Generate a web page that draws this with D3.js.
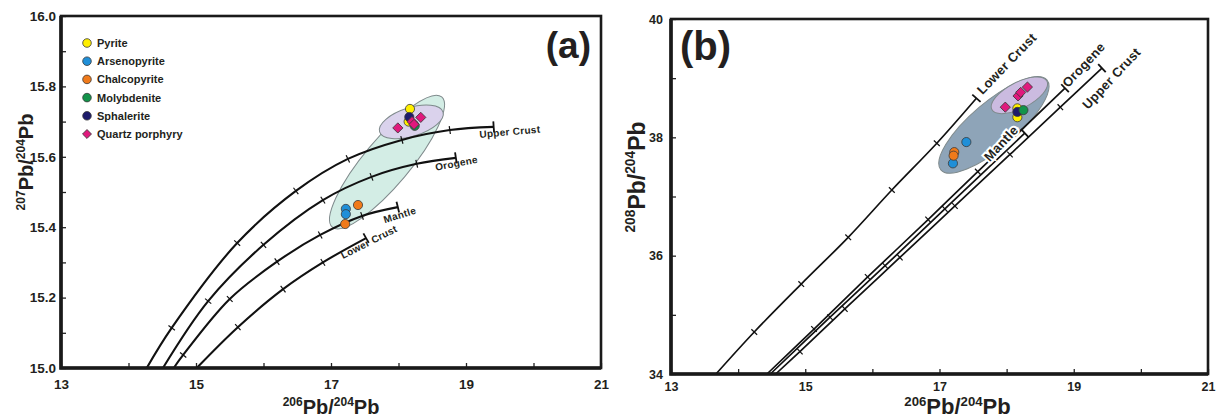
<!DOCTYPE html>
<html>
<head>
<meta charset="utf-8">
<script src="https://cdn.jsdelivr.net/npm/d3@7"></script>
<style>
  body { margin: 0; background: #fff; }
  text { font-family: "Liberation Sans", Arial, sans-serif; font-weight: bold; fill: #231f20; }
</style>
</head>
<body>
<svg id="chart" width="1217" height="419"></svg>
<script>
// ---- data ----
const xTicks = [13, 14, 15, 16, 17, 18, 19, 20, 21];
const yTicksA = [15.0, 15.1, 15.2, 15.3, 15.4, 15.5, 15.6, 15.7, 15.8, 15.9, 16.0];
const yTicksB = [34, 35, 36, 37, 38, 39, 40];

const minerals = ["Pyrite", "Arsenopyrite", "Chalcopyrite", "Molybdenite", "Sphalerite", "Quartz porphyry"];
const mineralColors = ["#ffef00", "#1f8fd8", "#f07a1a", "#13934a", "#1d1b6b", "#e0197d"];

// Zartman & Doe growth curves, points at the model-age ticks
const curveNames = ["Upper Crust", "Orogene", "Mantle", "Lower Crust"];
const curvesA = [
  [[14.27, 15.0], [14.64, 15.114], [15.61, 15.355], [16.48, 15.503], [17.25, 15.594], [18.05, 15.648], [18.76, 15.676], [19.41, 15.685]],
  [[14.51, 15.0], [15.18, 15.19], [16.0, 15.35], [16.88, 15.477], [17.6, 15.543], [18.27, 15.58], [18.85, 15.597]],
  [[14.67, 15.0], [14.81, 15.037], [15.5, 15.196], [16.2, 15.302], [16.84, 15.378], [17.46, 15.432], [17.99, 15.457]],
  [[15.01, 15.0], [15.62, 15.116], [16.29, 15.224], [16.88, 15.30], [17.52, 15.369]]
];
const curvesB = [
  [[14.56, 34.0], [14.92, 34.38], [15.59, 35.10], [16.41, 35.97], [17.23, 36.84], [18.05, 37.71], [18.80, 38.51], [19.42, 39.17]],
  [[14.43, 34.0], [15.13, 34.76], [15.93, 35.64], [16.83, 36.61], [17.57, 37.42], [18.87, 38.83]],
  [[14.48, 34.0], [15.37, 34.96], [16.19, 35.83], [17.08, 36.79], [18.27, 38.07]],
  [[13.67, 34.0], [14.24, 34.71], [14.94, 35.52], [15.64, 36.31], [16.29, 37.11], [16.96, 37.90], [17.55, 38.66]]
];

// sample points per mineral (206Pb/204Pb, 207Pb/204Pb) and (206Pb/204Pb, 208Pb/204Pb)
const pointsA = [
  [[18.17, 15.736], [18.15, 15.700]],
  [[17.22, 15.452], [17.22, 15.437]],
  [[17.40, 15.463], [17.21, 15.409]],
  [[18.24, 15.688]],
  [[18.16, 15.713]],
  [[17.99, 15.682], [18.33, 15.712], [18.20, 15.700], [18.23, 15.692]]
];
const pointsB = [
  [[18.16, 38.49], [18.16, 38.34]],
  [[17.40, 37.92], [17.20, 37.56]],
  [[17.22, 37.75], [17.21, 37.69]],
  [[18.25, 38.46]],
  [[18.16, 38.43]],
  [[17.98, 38.51], [18.17, 38.70], [18.21, 38.76], [18.31, 38.85]]
];

// field ellipses: centre and end of the long axis in data units
const ellipsesA = [
  { c: [17.83, 15.585], end: [18.64, 15.77], ratio: 0.27, fill: "#d3ede5" },
  { c: [18.19, 15.699], end: [18.66, 15.727], ratio: 0.43, fill: "#dad2ec" }
];
const ellipsesB = [
  { c: [17.81, 38.21], end: [18.60, 38.97], ratio: 0.33, fill: "#8ea4b8" },
  { c: [18.19, 38.71], end: [18.60, 38.95], ratio: 0.42, fill: "#cbbbe0" }
];

const svg = d3.select("#chart");

function drawPanel(opt) {
  const x = d3.scaleLinear().domain([13, 21]).range([opt.left, opt.right]);
  const y = d3.scaleLinear().domain(opt.yDomain).range([opt.bottom, opt.top]);
  const g = svg.append("g");

  // ellipses
  opt.ellipses.forEach((e) => {
    const cx = x(e.c[0]), cy = y(e.c[1]);
    const ex = x(e.end[0]), ey = y(e.end[1]);
    const a = Math.hypot(ex - cx, ey - cy);
    const ang = Math.atan2(ey - cy, ex - cx) * 180 / Math.PI;
    g.append("ellipse")
      .attr("rx", a).attr("ry", a * e.ratio)
      .attr("transform", `translate(${cx},${cy}) rotate(${ang})`)
      .attr("fill", e.fill)
      .attr("stroke", "#7f8a8c")
      .attr("stroke-width", 1);
  });

  // growth curves
  const line = d3.line().x((d) => x(d[0])).y((d) => y(d[1])).curve(d3.curveCatmullRom.alpha(0.5));
  opt.curves.forEach((c, i) => {
    g.append("path").attr("d", line(c)).attr("fill", "none")
      .attr("stroke", "#111").attr("stroke-width", opt.lineWidth);
    const px = c.map((d) => [x(d[0]), y(d[1])]);
    px.forEach((p, j) => {
      if (j === 0) return;
      const a = px[Math.max(j - 1, 0)], b = px[Math.min(j + 1, px.length - 1)];
      let dx = b[0] - a[0], dy = b[1] - a[1];
      const len = Math.hypot(dx, dy);
      const nx = -dy / len, ny = dx / len;
      const h = j === px.length - 1 ? 5.5 : 4;
      g.append("line")
        .attr("x1", p[0] - nx * h).attr("y1", p[1] - ny * h)
        .attr("x2", p[0] + nx * h).attr("y2", p[1] + ny * h)
        .attr("stroke", "#111").attr("stroke-width", j === px.length - 1 ? 1.8 : 1.2);
    });
    const last = px[px.length - 1];
    const lab = opt.labels[i];
    g.append("text")
      .attr("transform", `translate(${last[0] + lab[0]},${last[1] + lab[1]}) rotate(${lab[2]})`)
      .style("font-size", opt.labelSize + "px")
      .style("letter-spacing", "0.3px")
      .style("paint-order", "stroke")
      .style("stroke", lab[3] ? "#fff" : "none")
      .style("stroke-width", 4)
      .text(curveNames[i]);
  });

  // sample points
  const sym = (k) => k === 5
    ? d3.symbol().type(d3.symbolSquare).size(52)
    : d3.symbol().type(d3.symbolCircle).size(66);
  [0, 4, 1, 2, 3, 5].forEach((k) => {
    opt.points[k].forEach((p) => {
      g.append("path")
        .attr("d", sym(k)())
        .attr("transform", `translate(${x(p[0])},${y(p[1])})` + (k === 5 ? " rotate(45)" : ""))
        .attr("fill", mineralColors[k])
        .attr("stroke", "#3a3a3a").attr("stroke-width", 0.8);
    });
  });

  // axes, ticks pointing inward
  const xa = g.append("g").attr("transform", `translate(0,${opt.bottom})`)
    .call(d3.axisBottom(x).tickValues(xTicks).tickSize(-5).tickPadding(opt.xPad)
      .tickFormat((d) => (d % 2 ? d : "")));
  const ya = g.append("g").attr("transform", `translate(${opt.left},0)`)
    .call(d3.axisLeft(y).tickValues(opt.yTicks).tickSize(-5).tickPadding(opt.yPad)
      .tickFormat(opt.yFormat));
  [xa, ya].forEach((a) => {
    a.select(".domain").remove();
    a.selectAll(".tick line").attr("stroke", "#222").attr("stroke-width", 1.3);
    a.selectAll("text").style("font-size", opt.tickSize + "px").style("font-family", "Liberation Sans, Arial, sans-serif")
      .style("font-weight", "bold").attr("fill", "#2b2b2b");
  });

  // frame
  g.append("rect")
    .attr("x", opt.left).attr("y", opt.top)
    .attr("width", opt.right - opt.left).attr("height", opt.bottom - opt.top)
    .attr("fill", "none").attr("stroke", "#1a1a1a").attr("stroke-width", 2.6);
  g.append("path")
    .attr("d", `M${opt.left},${opt.top}V${opt.bottom}H${opt.right}`)
    .attr("fill", "none").attr("stroke", "#1a1a1a").attr("stroke-width", 3.6);

  // axis titles
  const xt = g.append("text")
    .attr("x", (opt.left + opt.right) / 2 + opt.xTitleShift).attr("y", 414)
    .attr("text-anchor", "middle").style("font-size", opt.titleSize + "px");
  xt.append("tspan").style("font-size", "0.6em").attr("baseline-shift", "65%").text("206");
  xt.append("tspan").text("Pb/");
  xt.append("tspan").style("font-size", "0.6em").attr("baseline-shift", "65%").text("204");
  xt.append("tspan").text("Pb");

  const yt = g.append("text")
    .attr("transform", `translate(${opt.yTitleX},${opt.yTitleY}) rotate(-90)`)
    .attr("text-anchor", "middle").style("font-size", opt.yTitleSize + "px");
  yt.append("tspan").style("font-size", "0.6em").attr("baseline-shift", "70%").text(opt.yIso);
  yt.append("tspan").text("Pb/");
  yt.append("tspan").style("font-size", "0.6em").attr("baseline-shift", "70%").text("204");
  yt.append("tspan").text("Pb");

  // panel letter
  g.append("text")
    .attr("x", opt.tag[0]).attr("y", opt.tag[1])
    .attr("text-anchor", opt.tag[2])
    .style("font-size", opt.tag[3] + "px")
    .text(opt.tagText);

  return { x, y, g };
}

const pa = drawPanel({
  left: 61, right: 601, top: 16, bottom: 368,
  yDomain: [15, 16], yTicks: yTicksA,
  yFormat: (d) => (Math.round(d * 10) % 2 === 0 ? d3.format(".1f")(d) : ""),
  curves: curvesA, points: pointsA, ellipses: ellipsesA,
  lineWidth: 2.1, labelSize: 10,
  labels: [[-14, 11, -5], [-20, 13, -11], [-13, 16, -17], [-23, 21, -27]],
  xPad: 11, yPad: 5, tickSize: 13.5, titleSize: 20, yTitleSize: 20,
  xTitleShift: 0, yTitleX: 33, yTitleY: 162, yIso: "207",
  tag: [591, 58, "end", 37], tagText: "(a)"
});

drawPanel({
  left: 671, right: 1208, top: 19, bottom: 374,
  yDomain: [34, 40], yTicks: yTicksB,
  yFormat: (d) => (d % 2 === 0 ? d : ""),
  curves: curvesB, points: pointsB, ellipses: ellipsesB,
  lineWidth: 1.7, labelSize: 13,
  labels: [[-14, 42, -47], [3, 0, -47], [-35, 29, -47, true], [6, -3, -46]],
  xPad: 8, yPad: 8, tickSize: 12.5, titleSize: 22, yTitleSize: 23,
  xTitleShift: 18, yTitleX: 645, yTitleY: 177, yIso: "208",
  tag: [680, 60, "start", 40], tagText: "(b)"
});

// legend (panel a)
const legend = pa.g.append("g");
minerals.forEach((m, i) => {
  const yy = 43 + i * 18.2;
  legend.append("path")
    .attr("d", i === 5 ? d3.symbol().type(d3.symbolSquare).size(40)() : d3.symbol().type(d3.symbolCircle).size(58)())
    .attr("transform", `translate(87,${yy})` + (i === 5 ? " rotate(45)" : ""))
    .attr("fill", mineralColors[i]).attr("stroke", "#3a3a3a").attr("stroke-width", 0.8);
  legend.append("text").attr("x", 97).attr("y", yy + 4)
    .style("font-size", "11px").attr("fill", "#333").text(m);
});
</script>
</body>
</html>
